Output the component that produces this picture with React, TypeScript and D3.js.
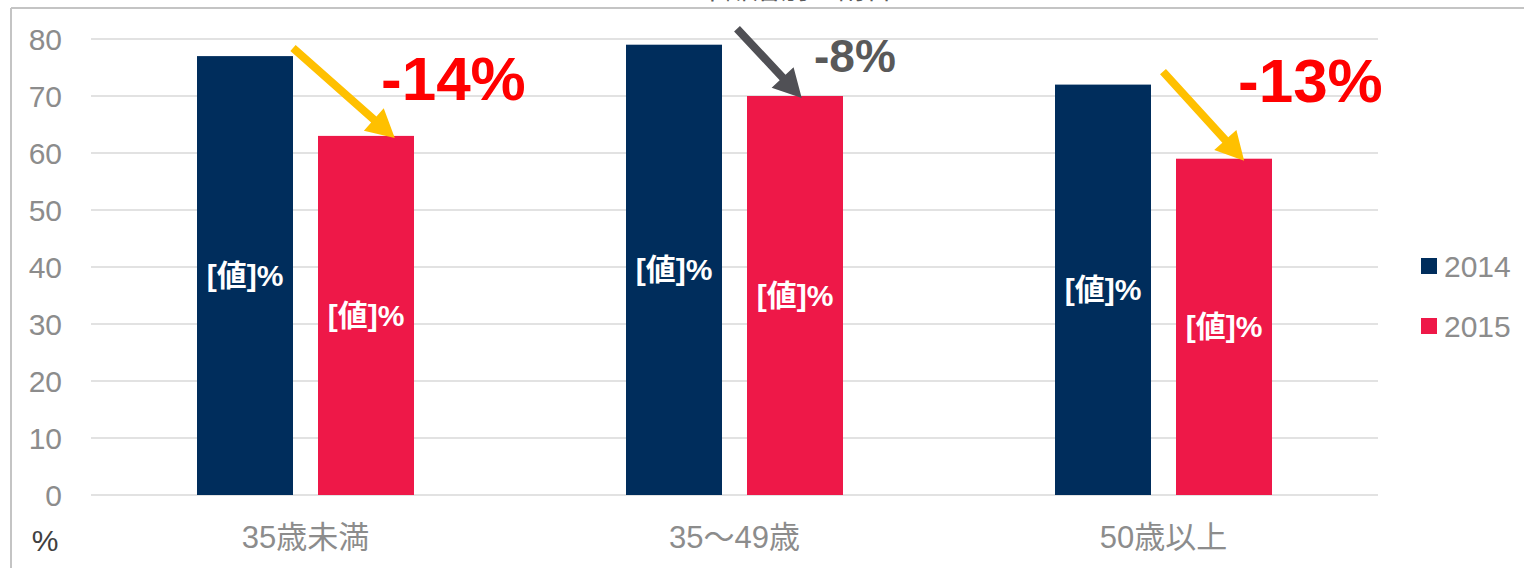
import React from "react";
import * as d3 from "d3";

const categories = ["35歳未満", "35〜49歳", "50歳以上"];
const seriesNames = ["2014", "2015"];
const values2014 = [77, 79, 72];
const values2015 = [63, 70, 59];
const changeLabels = ["-14%", "-8%", "-13%"];
const changeColors = ["#FF0000", "#595959", "#FF0000"];
const arrowColors = ["#FFC000", "#505055", "#FFC000"];
const yTicks = [0, 10, 20, 30, 40, 50, 60, 70, 80];
const barLabel = "[値]%";
const title = "年齢層別の割合";

const W = 1524;
const H = 568;
const colors = ["#002D5C", "#EE1848"];
const FONT = "'Liberation Sans', Arial, 'Noto Sans CJK JP', sans-serif";

export default function App() {
  const x = d3.scaleBand<string>().domain(categories).range([91, 1378]).padding(0);
  const y = d3.scaleLinear().domain([0, 80]).range([495, 39]);
  const bw = 96;
  const gap = 25;
  const groupOffset = (x.bandwidth() - (bw * 2 + gap)) / 2;
  const barX = (c: string, s: string) => (x(c) as number) + groupOffset + (s === "2014" ? 0 : bw + gap);
  const series = [values2014, values2015];

  // arrow / change-label annotation offsets relative to bars
  const arrowStartDy = [-8, -16, -13];
  const arrowStartDx = [0, 15, 12];
  const arrowEndFrac = [0.8, 0.57, 0.71];
  const labelDx = [63, 67, 62];
  const labelY = [100, 72, 102];
  const labelSize = [62, 46, 62];

  const arrowPath = (x1: number, y1: number, x2: number, y2: number, w: number, hl: number, hw: number) => {
    const dx = x2 - x1;
    const dy = y2 - y1;
    const len = Math.sqrt(dx * dx + dy * dy);
    const ux = dx / len;
    const uy = dy / len;
    const px = -uy;
    const py = ux;
    const bx = x2 - ux * hl;
    const by = y2 - uy * hl;
    const pts = [
      [x1 + (px * w) / 2, y1 + (py * w) / 2],
      [bx + (px * w) / 2, by + (py * w) / 2],
      [bx + (px * hw) / 2, by + (py * hw) / 2],
      [x2, y2],
      [bx - (px * hw) / 2, by - (py * hw) / 2],
      [bx - (px * w) / 2, by - (py * w) / 2],
      [x1 - (px * w) / 2, y1 - (py * w) / 2],
    ];
    return "M" + pts.map((p) => p.join(",")).join("L") + "Z";
  };

  return (
    <div style={{ position: "absolute", left: 0, top: 0 }}>
      <svg width={W} height={H} style={{ display: "block", fontFamily: FONT }}>
        <rect x={0} y={0} width={W} height={H} fill="#fff" />
        <text x={795} y={-1} textAnchor="middle" fontSize={28} fill="#595959">
          {title}
        </text>
        <line x1={11} y1={8} x2={W} y2={8} stroke="#c4c4c4" strokeWidth={2} />
        <line x1={11} y1={8} x2={11} y2={H} stroke="#c4c4c4" strokeWidth={2} />
        {yTicks.map((t) => (
          <g key={t}>
            <line x1={91} x2={1378} y1={y(t)} y2={y(t)} stroke="#d9d9d9" strokeWidth={1.5} />
            <text x={62} y={y(t)} dy="0.35em" textAnchor="end" fontSize={30} fill="#8c8c8c">
              {t}
            </text>
          </g>
        ))}
        <text x={45} y={540} dy="0.35em" textAnchor="middle" fontSize={30} fill="#404040">
          %
        </text>
        {categories.map((c, i) => (
          <g key={c}>
            {seriesNames.map((s, j) => {
              const v = series[j][i];
              const bx = barX(c, s);
              return (
                <g key={s}>
                  <rect x={bx} y={y(v)} width={bw} height={y(0) - y(v)} fill={colors[j]} />
                  <text
                    x={bx + bw / 2}
                    y={(y(v) + y(0)) / 2}
                    dy="0.35em"
                    textAnchor="middle"
                    fontSize={30}
                    fontWeight="bold"
                    fill="#fff"
                  >
                    {barLabel}
                  </text>
                </g>
              );
            })}
            <text
              x={(x(c) as number) + x.bandwidth() / 2}
              y={537}
              dy="0.35em"
              textAnchor="middle"
              fontSize={31}
              fill="#8c8c8c"
            >
              {c}
            </text>
            <path
              d={arrowPath(
                barX(c, "2014") + bw + arrowStartDx[i],
                y(values2014[i]) + arrowStartDy[i],
                barX(c, "2015") + bw * arrowEndFrac[i],
                y(values2015[i]) + 2,
                8,
                28,
                30
              )}
              fill={arrowColors[i]}
            />
            <text
              x={barX(c, "2015") + labelDx[i]}
              y={labelY[i]}
              fontSize={labelSize[i]}
              fontWeight="bold"
              fill={changeColors[i]}
            >
              {changeLabels[i]}
            </text>
          </g>
        ))}
        {seriesNames.map((s, j) => (
          <g key={s}>
            <rect x={1421} y={258 + j * 60} width={16} height={16} fill={colors[j]} />
            <text x={1444} y={266 + j * 60} dy="0.35em" fontSize={30} fill="#8c8c8c">
              {s}
            </text>
          </g>
        ))}
      </svg>
    </div>
  );
}
